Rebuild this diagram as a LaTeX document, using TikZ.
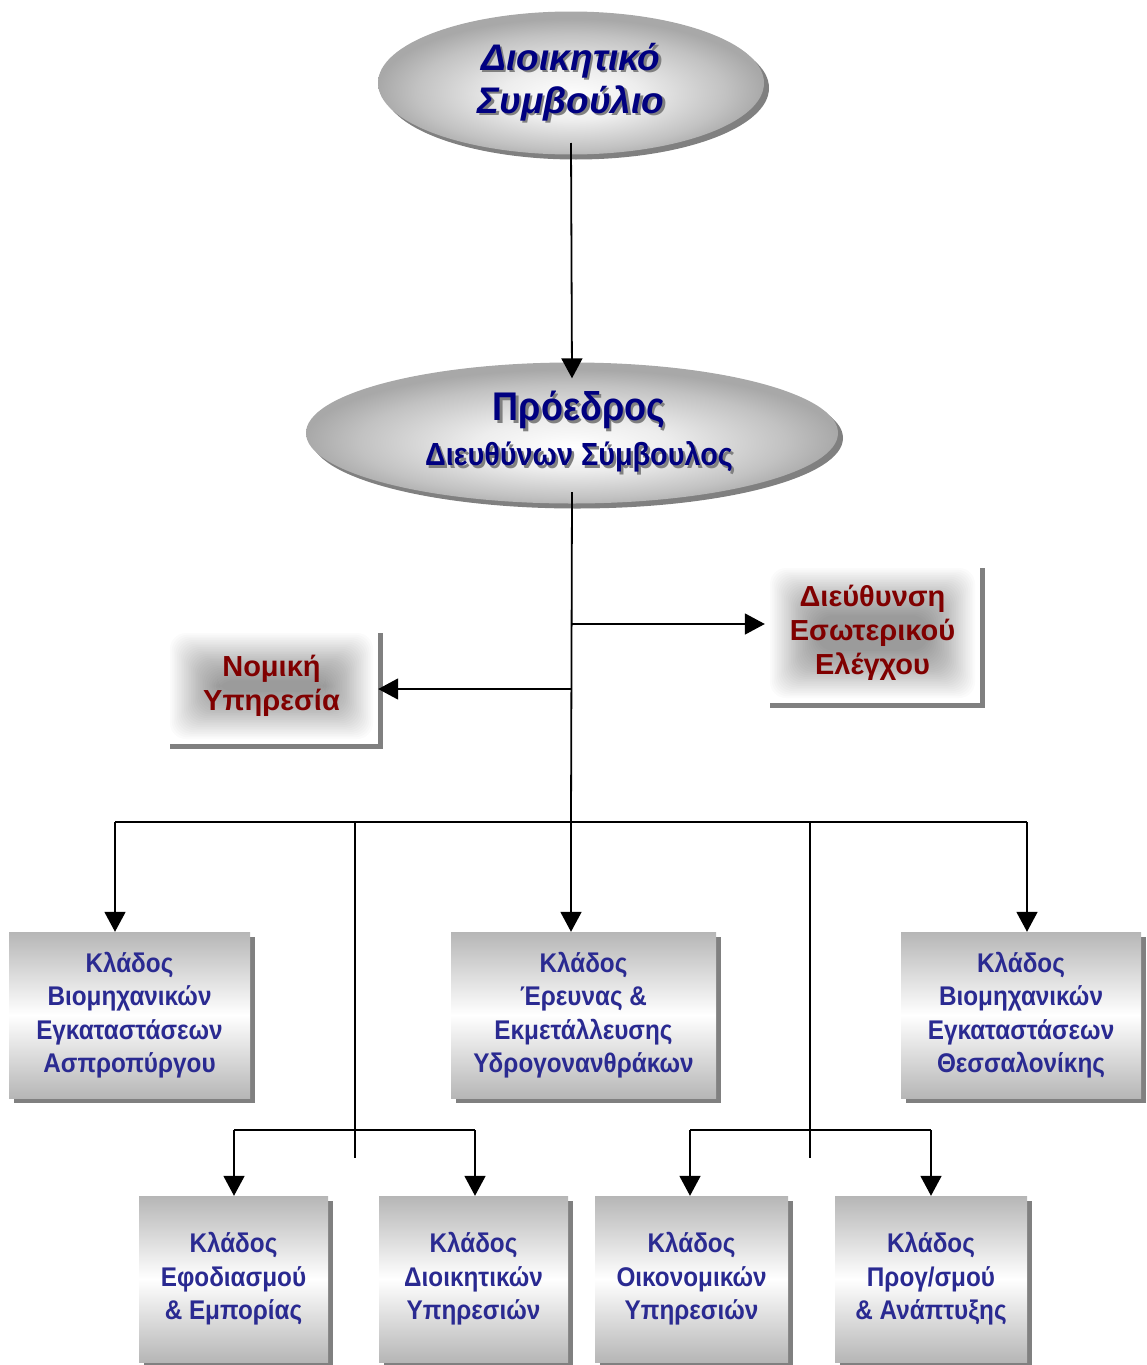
\documentclass[tikz,border=0pt]{standalone}
\usepackage{fontspec}
\setmainfont{Liberation Sans}
\newfontfamily\narrowfont{Liberation Sans}[FakeStretch=0.9]
\usetikzlibrary{shapes.geometric,shadows,arrows.meta,calc}

\definecolor{titleblue}{RGB}{0,0,128}
\definecolor{branchblue}{RGB}{42,42,145}
\definecolor{unitred}{RGB}{128,0,0}
\definecolor{shadowgray}{RGB}{128,128,128}
\definecolor{boxgray}{RGB}{182,182,182}

% light centre, grey rim for the two ovals
\pgfdeclareradialshading{ovalshade}{\pgfpoint{0bp}{-5bp}}{%
  color(0bp)=(white); color(9bp)=(white!93!black);
  color(20bp)=(black!24); color(25bp)=(black!34); color(50bp)=(black!34)}

% text with a soft grey copy behind it
\newcommand\shtext[1]{\makebox[0pt][l]{\hspace{2.5pt}\raisebox{-2.5pt}{\textcolor{shadowgray}{#1}}}#1}

\begin{document}
\begin{tikzpicture}[x=1pt,y=-1pt,
  oval/.style={ellipse, shading=ovalshade, inner sep=0pt, align=center,
    text=titleblue,
    drop shadow={shadow xshift=5pt, shadow yshift=-5pt, opacity=1, fill=shadowgray}},
  branchbox/.style={rectangle, inner sep=0pt, align=center,
    top color=boxgray, bottom color=boxgray, middle color=white,
    minimum height=166pt, text=branchblue,
    font=\narrowfont\bfseries\fontsize{27}{33.5}\selectfont,
    drop shadow={shadow xshift=5pt, shadow yshift=-5pt, opacity=1, fill=shadowgray}},
  % white box with a soft grey glow stacked up from nested rounded rectangles
  unitbox/.style={rectangle, inner sep=0pt, align=center, fill=white,
    text=unitred, font=\bfseries\fontsize{29}{34}\selectfont,
    drop shadow={shadow xshift=5pt, shadow yshift=-5pt, opacity=1, fill=shadowgray},
    path picture={
      \foreach \k in {0,...,27}
        \fill[black, opacity=0.017, rounded corners=16pt]
          ([xshift=5pt+\k*1.75pt, yshift=5pt+\k*1.75pt]path picture bounding box.south west)
          rectangle
          ([xshift=-5pt-\k*1.75pt, yshift=-5pt-\k*1.75pt]path picture bounding box.north east);
    }},
  line/.style={draw=black, line width=1.8pt},
  link/.style={line, -{Triangle[width=21pt,length=20pt]}}]

\useasboundingbox (0,0) rectangle (1147,1365);

% governing bodies
\node[oval, minimum width=386pt, minimum height=143pt,
      font=\bfseries\itshape\fontsize{37}{43}\selectfont] (board) at (571,83)
  {\shtext{Διοικητικό}\\\shtext{Συμβούλιο}};
\node[oval, minimum width=532pt, minimum height=141pt,
      font=\narrowfont\bfseries\fontsize{32}{45}\selectfont] (ceo) at (572,433)
  {\hspace*{14pt}{\fontsize{40}{45}\selectfont\shtext{Πρόεδρος}}\\
   \hspace*{14pt}\shtext{Διευθύνων Σύμβουλος}};

% staff units
\node[unitbox, minimum width=215pt, minimum height=140pt] (audit) at (872.5,633)
  {Διεύθυνση\\Εσωτερικού\\Ελέγχου};
\node[unitbox, minimum width=213pt, minimum height=116pt] (legal) at (271.5,686)
  {Νομική\\Υπηρεσία};

% first row of branches
\node[branchbox, minimum width=241pt] (asp) at (129.5,1015)
  {Κλάδος\\Βιομηχανικών\\Εγκαταστάσεων\\Ασπροπύργου};
\node[branchbox, minimum width=265pt] (hyd) at (583.5,1015)
  {Κλάδος\\Έρευνας \&\\Εκμετάλλευσης\\Υδρογονανθράκων};
\node[branchbox, minimum width=240pt] (thes) at (1021,1015)
  {Κλάδος\\Βιομηχανικών\\Εγκαταστάσεων\\Θεσσαλονίκης};

% second row of branches
\node[branchbox, minimum width=189pt] (supply) at (233.5,1279)
  {Κλάδος\\Εφοδιασμού\\\& Εμπορίας};
\node[branchbox, minimum width=189pt] (admin) at (473.5,1279)
  {Κλάδος\\Διοικητικών\\Υπηρεσιών};
\node[branchbox, minimum width=193pt] (fin) at (691.5,1279)
  {Κλάδος\\Οικονομικών\\Υπηρεσιών};
\node[branchbox, minimum width=192pt] (plan) at (931,1279)
  {Κλάδος\\Προγ/σμού\\\& Ανάπτυξης};

% junction points
\coordinate (boardfoot) at ($(board.center)+(0,60)$);
\coordinate (ceotop) at ($(ceo.north)+(0,16)$);
\coordinate (ceofoot) at ($(ceo.center)+(0,59)$);
\coordinate (auditjoint) at (571,624);
\coordinate (legaljoint) at (571,689);
\coordinate (hub) at (571,822);
\coordinate (busW) at (115,822);
\coordinate (busE) at (1027,822);
\coordinate (dropL) at (355,822);
\coordinate (dropR) at (810,822);
\coordinate (dropLend) at (355,1158);
\coordinate (dropRend) at (810,1158);
\coordinate (subL1) at (234,1130);
\coordinate (subL2) at (475,1130);
\coordinate (subR1) at (690,1130);
\coordinate (subR2) at (931,1130);

% connectors
\draw[link] (boardfoot) -- (ceotop);
\draw[line] (ceofoot) -- (hub);
\draw[link] (auditjoint) -- (auditjoint -| audit.west);
\draw[link] (legaljoint) -- (legaljoint -| legal.east);
\draw[line] (busW) -- (busE);
\draw[link] (busW) -- (busW |- asp.north);
\draw[link] (hub) -- (hub |- hyd.north);
\draw[link] (busE) -- (busE |- thes.north);
\draw[line] (dropL) -- (dropLend);
\draw[line] (dropR) -- (dropRend);
\draw[line] (subL1) -- (subL2);
\draw[line] (subR1) -- (subR2);
\draw[link] (subL1) -- (subL1 |- supply.north);
\draw[link] (subL2) -- (subL2 |- admin.north);
\draw[link] (subR1) -- (subR1 |- fin.north);
\draw[link] (subR2) -- (subR2 |- plan.north);
\end{tikzpicture}
\end{document}
